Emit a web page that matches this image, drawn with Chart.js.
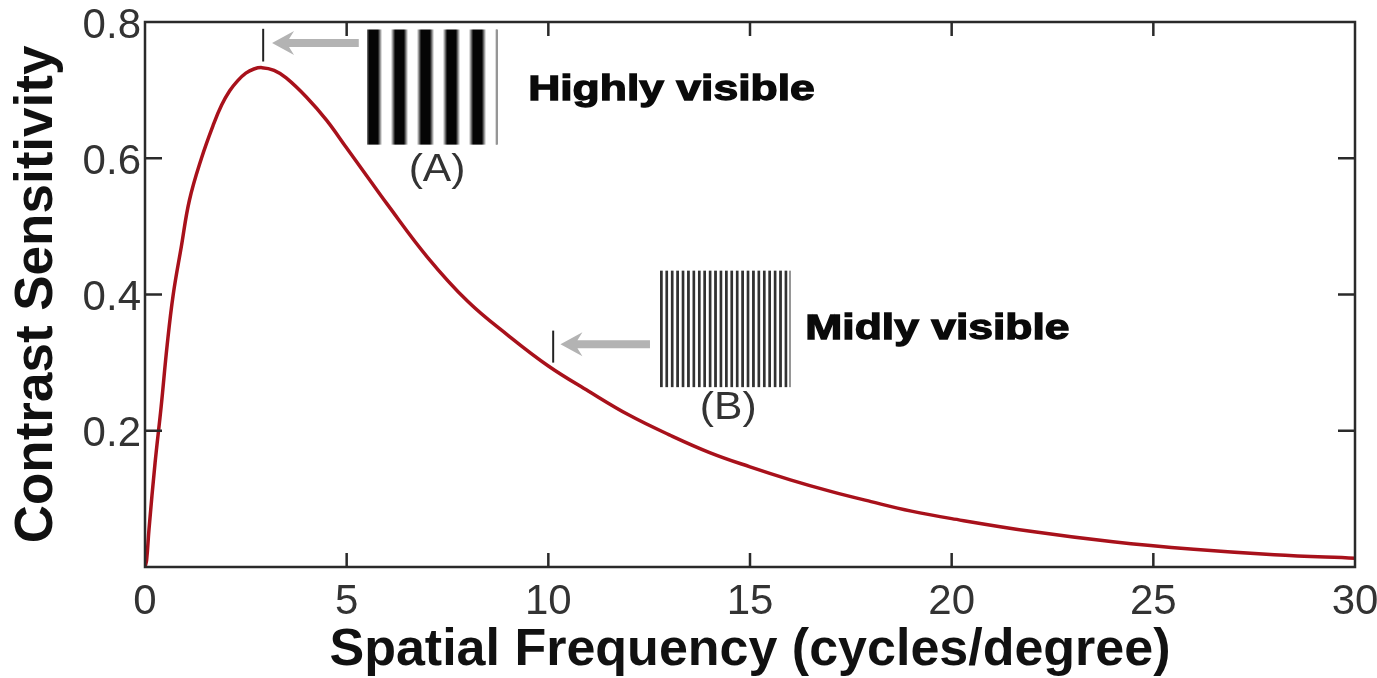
<!DOCTYPE html>
<html><head><meta charset="utf-8">
<script src="https://cdn.jsdelivr.net/npm/chart.js@4.4.0/dist/chart.umd.min.js"></script>
<style>html,body{margin:0;padding:0;background:#fff;}#wrap{width:1377px;height:678px;position:relative}</style>
</head><body><div id="wrap"><canvas id="c" width="1377" height="678"></canvas></div>
<script>
// ---- data ----
const freq = [0, 0.04, 0.1, 0.25, 0.4, 0.55, 0.7, 0.9, 1.1, 1.4, 1.7, 1.9, 2.1, 2.3, 2.5, 2.7, 2.9, 3.2, 3.5, 4.0, 4.5, 5.0, 5.5, 6.0, 7.0, 8.0, 9.0, 10.0, 11.0, 12.0, 13.0, 14.0, 15.0, 16.0, 17.0, 18.0, 19.0, 20.0, 22.0, 24.0, 26.0, 28.0, 30.0];
const sensitivity = [0.0, 0.01, 0.056, 0.153, 0.235, 0.326, 0.40, 0.47, 0.538, 0.60, 0.65, 0.678, 0.699, 0.714, 0.725, 0.731, 0.733, 0.729, 0.718, 0.69, 0.656, 0.615, 0.574, 0.533, 0.455, 0.39, 0.34, 0.295, 0.258, 0.223, 0.194, 0.168, 0.147, 0.128, 0.111, 0.096, 0.082, 0.071, 0.052, 0.037, 0.026, 0.018, 0.013];
const xTickValues = [0, 5, 10, 15, 20, 25, 30];
const yTickValues = [0.2, 0.4, 0.6, 0.8];
const xTitle = 'Spatial Frequency (cycles/degree)';
const yTitle = 'Contrast Sensitivity';
const annotationLabels = ['(A)', 'Highly visible', '(B)', 'Midly visible'];
// annotation anchors in data units
const annA = {mark: 2.93, markTop: 0.79, markBot: 0.742, arrowY: 0.769, arrowTip: 3.15, arrowTail: 5.3,
  gx0: 5.5, gx1: 8.73, gy0: 0.789, gy1: 0.62, cycles: 5, lblX: 7.24, lblY: 0.582, txtX: 9.5, txtY: 0.699};
const annB = {mark: 10.12, markTop: 0.347, markBot: 0.30, arrowY: 0.327, arrowTip: 10.3, arrowTail: 12.52,
  gx0: 12.77, gx1: 15.99, gy0: 0.435, gy1: 0.264, cycles: 24, lblX: 14.46, lblY: 0.233, txtX: 16.37, txtY: 0.349};

const FONT = "'Liberation Sans', Arial, sans-serif";

function drawGrating(ctx, x0, x1, y0, y1, cycles, sharp, edgeGray) {
  const w = Math.round(x1 - x0);
  const period = w / cycles;
  for (let i = 0; i < w; i++) {
    const phase = ((i + 0.5) / period - 0.25);
    const v = Math.cos(phase * 2 * Math.PI); // 1 = dark center
    const dark = Math.max(0, Math.min(1, 0.5 + v * sharp));
    const g = Math.round(255 - (255 - edgeGray) * dark);
    ctx.fillStyle = `rgb(${g},${g},${g})`;
    ctx.fillRect(Math.round(x0) + i, y0, 1, y1 - y0);
  }
  ctx.fillStyle = 'rgb(150,150,150)';
  ctx.fillRect(Math.round(x0) + w - 1, y0, 2, y1 - y0);
}

function drawArrow(ctx, tip, tail, yy) {
  ctx.fillStyle = '#b3b3b3';
  const headL = 22, headH = 12, shaft = 4;
  ctx.beginPath();
  ctx.moveTo(tip, yy);
  ctx.lineTo(tip + headL, yy - headH);
  ctx.lineTo(tip + headL - 5, yy - shaft);
  ctx.lineTo(tail, yy - shaft);
  ctx.lineTo(tail, yy + shaft);
  ctx.lineTo(tip + headL - 5, yy + shaft);
  ctx.lineTo(tip + headL, yy + headH);
  ctx.closePath();
  ctx.fill();
}

function wideText(ctx, text, px, py, sx, stroke) {
  ctx.save();
  ctx.translate(px, py);
  ctx.scale(sx, 1);
  ctx.fillText(text, 0, 0);
  if (stroke) { ctx.lineWidth = stroke; ctx.strokeStyle = ctx.fillStyle; ctx.strokeText(text, 0, 0); }
  ctx.restore();
}

const overlay = {
  id: 'overlay',
  afterDraw(chart) {
    const {ctx, chartArea: a, scales: {x, y}} = chart;
    ctx.save();
    // box frame
    ctx.strokeStyle = '#2a2a2a';
    ctx.lineWidth = 2.5;
    ctx.strokeRect(a.left, a.top, a.right - a.left, a.bottom - a.top);
    // inward ticks on all four sides
    const tl = 14;
    ctx.beginPath();
    xTickValues.slice(1, -1).forEach(v => {
      const px = x.getPixelForValue(v);
      ctx.moveTo(px, a.bottom); ctx.lineTo(px, a.bottom - tl);
      ctx.moveTo(px, a.top); ctx.lineTo(px, a.top + tl);
    });
    yTickValues.slice(0, -1).forEach(v => {
      const py = y.getPixelForValue(v);
      ctx.moveTo(a.left, py); ctx.lineTo(a.left + tl + 3, py);
      ctx.moveTo(a.right, py); ctx.lineTo(a.right - tl - 3, py);
    });
    ctx.stroke();

    [[annA, 1.0, 5, annotationLabels[0], annotationLabels[1]], [annB, 1.0, 50, annotationLabels[2], annotationLabels[3]]].forEach(([an, sharp, edgeGray, lbl, txt]) => {
      // marker line
      ctx.strokeStyle = '#222'; ctx.lineWidth = 2;
      ctx.beginPath();
      const mx = x.getPixelForValue(an.mark);
      ctx.moveTo(mx, y.getPixelForValue(an.markTop)); ctx.lineTo(mx, y.getPixelForValue(an.markBot));
      ctx.stroke();
      // arrow
      drawArrow(ctx, x.getPixelForValue(an.arrowTip), x.getPixelForValue(an.arrowTail), y.getPixelForValue(an.arrowY));
      // grating
      drawGrating(ctx, x.getPixelForValue(an.gx0), x.getPixelForValue(an.gx1), y.getPixelForValue(an.gy0), y.getPixelForValue(an.gy1), an.cycles, sharp, edgeGray);
      // labels
      ctx.fillStyle = '#333';
      ctx.font = `38px ${FONT}`;
      ctx.textAlign = 'center'; ctx.textBaseline = 'middle';
      wideText(ctx, lbl, x.getPixelForValue(an.lblX), y.getPixelForValue(an.lblY), 1.12, 0);
      ctx.fillStyle = '#0a0a0a';
      ctx.font = `bold 35px ${FONT}`;
      ctx.textAlign = 'left';
      wideText(ctx, txt, x.getPixelForValue(an.txtX), y.getPixelForValue(an.txtY), 1.27, 1.3);
    });
    ctx.restore();
  }
};

new Chart(document.getElementById('c'), {
  type: 'line',
  data: {
    datasets: [{
      data: freq.map((f, i) => ({x: f, y: sensitivity[i]})),
      borderColor: '#a8111b',
      borderWidth: 3.5,
      pointRadius: 0,
      fill: false,
      tension: 0.4
    }]
  },
  options: {
    responsive: false,
    animation: false,
    devicePixelRatio: 1,
    layout: {padding: {top: 22, right: 22, left: 0, bottom: 0}},
    plugins: {legend: {display: false}, tooltip: {enabled: false}},
    scales: {
      x: {
        type: 'linear', min: 0, max: 30,
        afterBuildTicks: s => { s.ticks = xTickValues.map(v => ({value: v})); },
        afterFit: s => { s.height = 111; s.paddingLeft = 0; s.paddingRight = 0; },
        grid: {display: false, drawTicks: false},
        border: {display: false},
        ticks: {color: '#333', font: {family: FONT, size: 42}, padding: 10, maxRotation: 0, callback: v => String(v)},
        title: {display: true, text: xTitle, color: '#111', font: {family: FONT, size: 52, weight: 'bold'}, padding: {top: 0, bottom: -4}}
      },
      y: {
        type: 'linear', min: 0, max: 0.8,
        afterBuildTicks: s => { s.ticks = yTickValues.map(v => ({value: v})); },
        afterFit: s => { s.width = 145; s.paddingTop = 0; s.paddingBottom = 0; },
        grid: {display: false, drawTicks: false},
        border: {display: false},
        ticks: {color: '#333', font: {family: FONT, size: 42}, padding: 4, labelOffset: 4, callback: v => v.toFixed(1)},
        title: {display: true, text: yTitle, color: '#111', font: {family: FONT, size: 53, weight: 'bold'}, padding: {top: 6, bottom: 0}}
      }
    }
  },
  plugins: [overlay]
});
</script>
</body></html>
